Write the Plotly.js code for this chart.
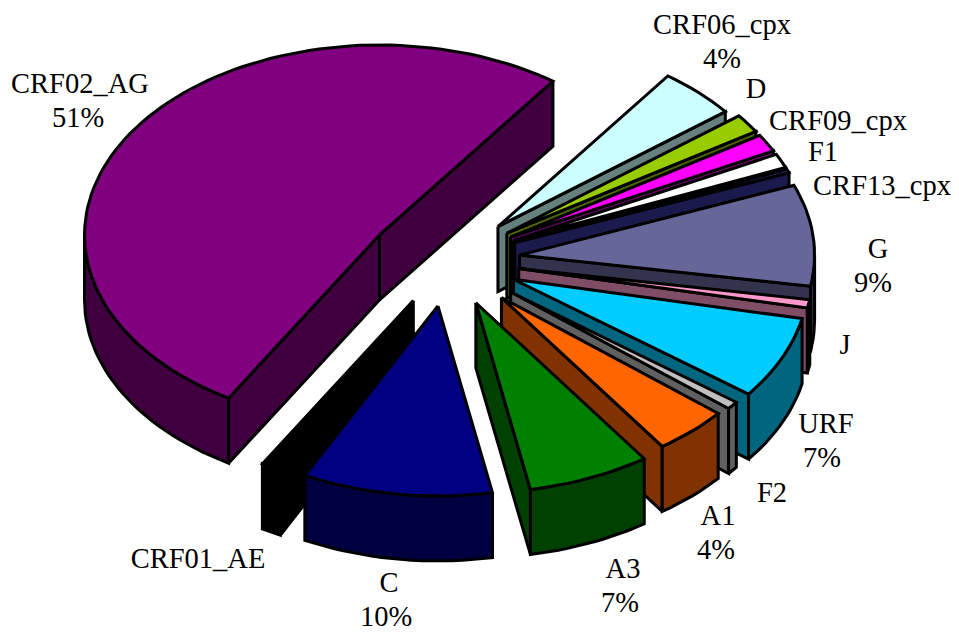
<!DOCTYPE html>
<html>
<head>
<meta charset="utf-8">
<script src="https://cdn.plot.ly/plotly-3.0.1.min.js"></script>
<style>html,body{margin:0;padding:0;background:#fff}#chart{width:959px;height:633px}</style>
</head>
<body>
<div id="chart"></div>
<script>
// Subtype shares, in clockwise order from the start angle
const subtypes = ['CRF06_cpx','D','CRF09_cpx','F1','CRF13_cpx','G','J','URF','F2','A1','A3','C','CRF01_AE','CRF02_AG'];
const shares   = [4.4, 1.6, 1.5, 1.2, 0.3, 8.6, 0.7, 7, 0.7, 4.3, 6.7, 10.4, 1.1, 51.4];
const showPct  = [1, 0, 0, 0, 0, 1, 0, 1, 0, 1, 1, 1, 0, 1];

// Face and wall colours per slice
const topColors  = ['#CCFFFF','#99CC00','#FF00FF','#FFFFFF','#333399','#666699','#FF99CC','#00CCFF','#C0C0C0','#FF6600','#008000','#000080','#000000','#800080'];
const wallColors = ['#668080','#4D6600','#800080','#202020','#1A1A4D','#33334D','#804D66','#006680','#606060','#803300','#004000','#000040','#000000','#400040'];

// Explosion distance, vertical nudge and radius scale per slice
const pull     = [72,72,72,72,72,72,72,72,80,79,72,72,72,82];
const nudgeY   = [0,0,0,0,0,0,0,0,0,0,0,0,0,4];
const radScale = [0.98,1,1,1,1,1,1,1,0.96,0.955,1,1,1,1];

// Label anchors in page pixels
const labelX = [722,756,838,823,882,878,845,826,772,718,623,389,198,80];
const labelY = [27,91,123,154,188,251,347,426,495,518,571,585,561,86];
const pctDX  = [0,0,0,0,0,-5,0,-4,0,-2,-3,-3,0,-2];

// Projection of the tilted pie
const cx = 448, cy = 260, rx = 295, ry = 190, depth = 65, startDeg = 36;
const rad = d => d * Math.PI / 180;
const px = (o, d) => o.x + o.r * rx * Math.sin(rad(d));
const py = (o, d) => o.y - o.r * ry * Math.cos(rad(d));

function arc(o, a, b) {
  const xs = [], ys = [], n = Math.max(2, Math.ceil((b - a) / 2));
  for (let i = 0; i <= n; i++) {
    const d = a + (b - a) * i / n;
    xs.push(px(o, d)); ys.push(py(o, d));
  }
  return {xs, ys};
}
function poly(xs, ys, fill) {
  return {
    type: 'scatter', mode: 'lines', x: xs.concat(xs[0]), y: ys.concat(ys[0]),
    fill: 'toself', fillcolor: fill, hoverinfo: 'skip',
    line: {color: '#000', width: 3, shape: 'linear'}
  };
}
function radialWall(o, d, fill) {
  const ex = px(o, d), ey = py(o, d);
  return poly([o.x, ex, ex, o.x], [o.y, ey, ey + depth, o.y + depth], fill);
}

const total = shares.reduce((s, v) => s + v, 0);
let cursor = startDeg;
const slices = subtypes.map((name, i) => {
  const a = cursor, b = cursor + shares[i] / total * 360;
  cursor = b;
  const mid = (a + b) / 2;
  const tip = {
    x: cx + pull[i] * Math.sin(rad(mid)),
    y: cy - pull[i] * Math.cos(rad(mid)) * ry / rx + nudgeY[i],
    r: radScale[i]
  };
  return {i, a, b, mid, tip};
});

// Paint from the back of the pie towards the viewer
const traces = [];
slices.slice().sort((p, q) => Math.cos(rad(q.mid)) - Math.cos(rad(p.mid))).forEach(s => {
  const wall = wallColors[s.i];
  if (Math.sin(rad(s.a)) < 0) traces.push(radialWall(s.tip, s.a, wall));
  if (Math.sin(rad(s.b)) > 0) traces.push(radialWall(s.tip, s.b, wall));
  // The rim is visible only over the front half of the ellipse
  const lo = Math.max(s.a, 90), hi = Math.min(s.b, 270);
  if (hi > lo) {
    const c = arc(s.tip, lo, hi);
    traces.push(poly(c.xs.concat(c.xs.slice().reverse()),
                     c.ys.concat(c.ys.slice().reverse().map(y => y + depth)), wall));
  }
  const top = arc(s.tip, s.a, s.b);
  traces.push(poly([s.tip.x].concat(top.xs), [s.tip.y].concat(top.ys), topColors[s.i]));
});

// Subtype names, with the percentage on a second line where it is shown
const textX = [], textY = [], textS = [];
subtypes.forEach((name, i) => {
  textX.push(labelX[i]); textY.push(labelY[i]); textS.push(name);
  if (showPct[i]) {
    textX.push(labelX[i] + pctDX[i]); textY.push(labelY[i] + 34);
    textS.push(Math.round(shares[i]) + '%');
  }
});
traces.push({
  type: 'scatter', mode: 'text', x: textX, y: textY, text: textS,
  textposition: 'middle center', hoverinfo: 'skip',
  textfont: {family: '"Liberation Serif", serif', size: 28.5, color: '#000'}
});

Plotly.newPlot('chart', traces, {
  width: 959, height: 633, showlegend: false,
  margin: {l: 0, r: 0, t: 0, b: 0},
  paper_bgcolor: '#fff', plot_bgcolor: '#fff',
  xaxis: {range: [0, 959], visible: false, fixedrange: true},
  yaxis: {range: [633, 0], visible: false, fixedrange: true}
}, {displayModeBar: false, staticPlot: true});
</script>
</body>
</html>
